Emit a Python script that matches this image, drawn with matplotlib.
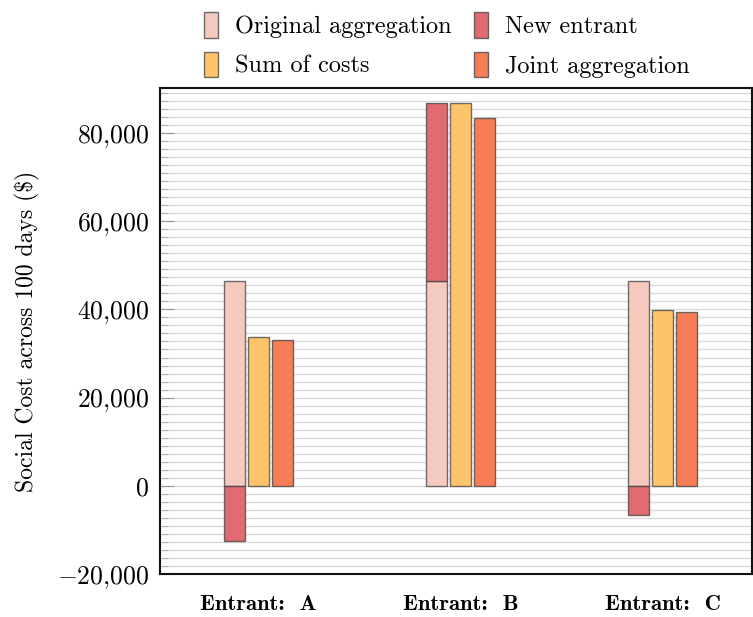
import matplotlib
matplotlib.use('Agg')
import matplotlib.pyplot as plt
import numpy as np
from matplotlib.ticker import MultipleLocator, FuncFormatter

plt.rcParams['font.family'] = 'cmr10'
plt.rcParams['mathtext.fontset'] = 'cm'
plt.rcParams['axes.unicode_minus'] = False

entrants = ['Entrant:  A', 'Entrant:  B', 'Entrant:  C']
original = [46350, 46350, 46350]
new_entrant = [-12500, 40500, -6600]
sum_costs = [33800, 86850, 39800]
joint = [33100, 83400, 39350]

c_orig = '#F5C9BE'
c_new = '#E06C72'
c_sum = '#FEC46C'
c_joint = '#F77D56'
edge = (0.25, 0.25, 0.25, 0.75)

fig = plt.figure(figsize=(7.53, 6.17), dpi=100)
ax = fig.add_axes([160 / 753, 43 / 617, 592 / 753, 486 / 617])

x = np.arange(len(entrants))
w = 0.104
off = 0.119

b1 = ax.bar(x - off, original, w, color=c_orig, edgecolor=edge, linewidth=1, label='Original aggregation', zorder=3)
# new entrant stacks on top if positive, hangs below zero if negative
bottoms = [o if n > 0 else 0 for o, n in zip(original, new_entrant)]
b2 = ax.bar(x - off, new_entrant, w, bottom=bottoms, color=c_new, edgecolor=edge, linewidth=1, label='New entrant', zorder=3)
b3 = ax.bar(x, sum_costs, w, color=c_sum, edgecolor=edge, linewidth=1, label='Sum of costs', zorder=3)
b4 = ax.bar(x + off, joint, w, color=c_joint, edgecolor=edge, linewidth=1, label='Joint aggregation', zorder=3)

ax.set_xlim(-0.4876, 2.443)
ax.set_ylim(-20000, 90200)

ax.yaxis.set_major_locator(MultipleLocator(20000))
ax.yaxis.set_minor_locator(MultipleLocator(20000 / 11))
ax.yaxis.set_major_formatter(FuncFormatter(lambda v, p: '$' + f'{v:,.0f}'.replace(',', '{,}') + '$'))
ax.grid(True, which='both', axis='y', color='#d9d9d9', linewidth=1, zorder=0)
ax.set_axisbelow(True)
ax.tick_params(axis='y', which='major', direction='in', length=10, color='#999999', labelsize=18.5, pad=8)
ax.tick_params(axis='y', which='minor', direction='in', length=6, color='#aaaaaa')

ax.set_xticks(x)
ax.set_xticklabels(entrants, family='cmb10', fontsize=16.3)
ax.tick_params(axis='x', length=0, pad=15)

for s in ax.spines.values():
    s.set_linewidth(1.5)
    s.set_color('#111111')

ax.set_ylabel('Social Cost across 100 days (\\$)', fontsize=17, labelpad=12)

leg = fig.legend([b1, b3, b2, b4],
                 ['Original aggregation', 'Sum of costs', 'New entrant', 'Joint aggregation'],
                 ncol=2, loc='upper left', bbox_to_anchor=(197 / 753, 1 - 5 / 617), borderaxespad=0,
                 borderpad=0.3, frameon=False, fontsize=17.5, handlelength=0.55, handleheight=1.25,
                 handletextpad=0.7, columnspacing=0.95, labelspacing=0.55)

fig.savefig('out.png', dpi=100)
